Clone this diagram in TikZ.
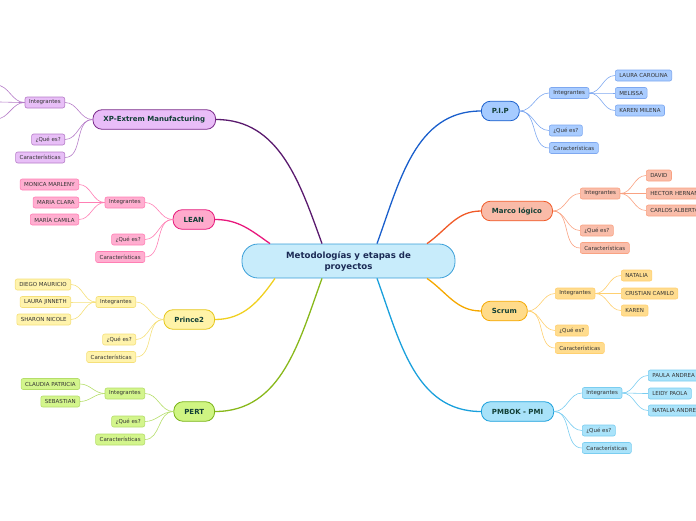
\documentclass[tikz,border=0pt]{standalone}
\usepackage{fontspec}
\setmainfont{DejaVu Sans}
\usetikzlibrary{calc}
\definecolor{ctrfill}{HTML}{C8ECFB}
\definecolor{ctrdraw}{HTML}{3A9FD8}
\definecolor{ctrtext}{HTML}{1B2A55}
\definecolor{toptext}{HTML}{123F36}
\definecolor{subtext}{HTML}{333333}
% XP
\definecolor{xpl}{HTML}{5A1A6E}\definecolor{xpf}{HTML}{E9BDF8}\definecolor{xpd}{HTML}{7A2A8A}\definecolor{xps}{HTML}{B67CC8}\definecolor{xpsf}{HTML}{E8BFF7}
% LEAN
\definecolor{lel}{HTML}{E8197D}\definecolor{lef}{HTML}{FFAACC}\definecolor{led}{HTML}{E6197A}\definecolor{les}{HTML}{FF7FB4}\definecolor{lesf}{HTML}{FFAED0}
% Prince2
\definecolor{prl}{HTML}{F0D020}\definecolor{prf}{HTML}{FFF3A8}\definecolor{prd}{HTML}{E6C619}\definecolor{prs}{HTML}{F5E07A}\definecolor{prsf}{HTML}{FFF3AC}
% PERT
\definecolor{pel}{HTML}{88B81A}\definecolor{pef}{HTML}{CFF582}\definecolor{ped}{HTML}{7AB319}\definecolor{pes}{HTML}{B5DE6A}\definecolor{pesf}{HTML}{D3F58C}
% PIP
\definecolor{pil}{HTML}{1A5FCC}\definecolor{pif}{HTML}{A6CBFF}\definecolor{pid}{HTML}{1A5FCC}\definecolor{pis}{HTML}{7EA8F0}\definecolor{pisf}{HTML}{A9CCFF}
% Marco
\definecolor{mal}{HTML}{F05A28}\definecolor{maf}{HTML}{F9BBA8}\definecolor{mad}{HTML}{F05A28}\definecolor{mas}{HTML}{F9A282}\definecolor{masf}{HTML}{F9BDAA}
% Scrum
\definecolor{scl}{HTML}{F5A800}\definecolor{scf}{HTML}{FFDB8A}\definecolor{scd}{HTML}{F5A800}\definecolor{scs}{HTML}{FFD070}\definecolor{scsf}{HTML}{FFDC8E}
% PMBOK
\definecolor{pml}{HTML}{1AA0DC}\definecolor{pmf}{HTML}{A8E2F9}\definecolor{pmd}{HTML}{1AA0DC}\definecolor{pms}{HTML}{7ACDF0}\definecolor{pmsf}{HTML}{AAE3FA}
\begin{document}
\begin{tikzpicture}[x=1pt,y=-1pt,
  sub/.style={draw, rounded corners=2pt, line width=0.6pt,
    font=\fontsize{5.5}{6}\selectfont, text=subtext,
    inner xsep=4pt, inner ysep=0pt, minimum height=11pt},
  topic/.style={draw, rounded corners=9pt, line width=0.8pt,
    font=\fontsize{7}{8}\selectfont\bfseries, text=toptext,
    inner xsep=10.5pt, inner ysep=0pt, minimum height=19.5pt},
  mainline/.style={line width=1.3pt},
  subline/.style={line width=0.6pt},
  ctr/.style={draw=ctrdraw, fill=ctrfill, line width=0.8pt, rounded corners=16pt,
    minimum width=213pt, minimum height=34pt, align=center,
    font=\fontsize{8.6}{11}\selectfont\bfseries, text=ctrtext}
]
\clip (0,0) rectangle (696,520);

% ===== centre
\node[ctr] (c) at (348.5,261) {Metodologías y etapas de\\proyectos};

% ===== main topics
\node[topic, fill=xpf, draw=xpd, anchor=east] (xp) at (216,119.5) {XP-Extrem Manufacturing};
\node[topic, fill=lef, draw=led, anchor=east] (lean) at (215,219.5) {LEAN};
\node[topic, fill=prf, draw=prd, anchor=east] (pr) at (215,319.5) {Prince2};
\node[topic, fill=pef, draw=ped, anchor=east] (pert) at (215,411.5) {PERT};
\node[topic, fill=pif, draw=pid, anchor=west] (pip) at (481,111) {P.I.P};
\node[topic, fill=maf, draw=mad, anchor=west] (ma) at (481,211) {Marco lógico};
\node[topic, fill=scf, draw=scd, anchor=west] (sc) at (481,311) {Scrum};
\node[topic, fill=pmf, draw=pmd, anchor=west] (pm) at (481,411.5) {PMBOK - PMI};

\draw[mainline, xpl] ($(c.north)+(-26.5,0)$) to[out=110,in=0] (xp.east);
\draw[mainline, lel] ($(c.north)+(-78.5,0)$) to[out=145,in=0] (lean.east);
\draw[mainline, prl] ($(c.south)+(-73.5,0)$) to[out=-125,in=0] (pr.east);
\draw[mainline, pel] ($(c.south)+(-26.5,0)$) to[out=-110,in=0] (pert.east);
\draw[mainline, pil] ($(c.north)+(28.5,0)$) to[out=70,in=180] (pip.west);
\draw[mainline, mal] ($(c.north)+(78.5,0)$) to[out=35,in=180] (ma.west);
\draw[mainline, scl] ($(c.south)+(78.5,0)$) to[out=-35,in=180] (sc.west);
\draw[mainline, pml] ($(c.south)+(28.5,0)$) to[out=-70,in=180] (pm.west);

% ===== XP subtree
\begin{scope}[every node/.append style={fill=xpsf, draw=xps}]
\node[sub, anchor=east] (xpi) at (65,102.5) {Integrantes};
\node[sub, anchor=east] (xpq) at (65,139.5) {¿Qué es?};
\node[sub, anchor=east] (xpc) at (65,157.5) {Características};
\end{scope}
\coordinate (xpa) at (-4,85);
\coordinate (xpb) at (-4,102);
\coordinate (xpcc) at (-4,119);
\foreach \n in {xpi,xpq,xpc} \draw[subline, xps] (xp.west) to[out=180,in=0] (\n.east);
\foreach \n in {xpa,xpb,xpcc} \draw[subline, xps] (xpi.west) to[out=180,in=0] (\n);

% ===== LEAN subtree
\begin{scope}[every node/.append style={fill=lesf, draw=les}]
\node[sub, anchor=east] (lei) at (145,202.5) {Integrantes};
\node[sub, anchor=east] (leq) at (145,239.5) {¿Qué es?};
\node[sub, anchor=east] (lec) at (145,257) {Características};
\node[sub, anchor=east] (le1) at (79,184.5) {MONICA MARLENY};
\node[sub, anchor=east] (le2) at (79,202.5) {MARIA CLARA};
\node[sub, anchor=east] (le3) at (79,219.5) {MARÍA CAMILA};
\end{scope}
\foreach \n in {lei,leq,lec} \draw[subline, les] (lean.west) to[out=180,in=0] (\n.east);
\foreach \n in {le1,le2,le3} \draw[subline, les] (lei.west) to[out=180,in=0] (\n.east);

% ===== Prince2 subtree
\begin{scope}[every node/.append style={fill=prsf, draw=prs}]
\node[sub, anchor=east] (pri) at (136,302) {Integrantes};
\node[sub, anchor=east] (prq) at (136,339.5) {¿Qué es?};
\node[sub, anchor=east] (prc) at (136,357) {Características};
\node[sub, anchor=east] (pr1) at (71,284.5) {DIEGO MAURICIO};
\node[sub, anchor=east] (pr2) at (71,302) {LAURA JINNETH};
\node[sub, anchor=east] (pr3) at (71,319.5) {SHARON NICOLE};
\end{scope}
\foreach \n in {pri,prq,prc} \draw[subline, prs] (pr.west) to[out=180,in=0] (\n.east);
\foreach \n in {pr1,pr2,pr3} \draw[subline, prs] (pri.west) to[out=180,in=0] (\n.east);

% ===== PERT subtree
\begin{scope}[every node/.append style={fill=pesf, draw=pes}]
\node[sub, anchor=east] (pei) at (145,393.5) {Integrantes};
\node[sub, anchor=east] (peq) at (145,421.5) {¿Qué es?};
\node[sub, anchor=east] (pec) at (145,439.5) {Características};
\node[sub, anchor=east] (pe1) at (80,384) {CLAUDIA PATRICIA};
\node[sub, anchor=east] (pe2) at (80,401.5) {SEBASTIAN};
\end{scope}
\foreach \n in {pei,peq,pec} \draw[subline, pes] (pert.west) to[out=180,in=0] (\n.east);
\foreach \n in {pe1,pe2} \draw[subline, pes] (pei.west) to[out=180,in=0] (\n.east);

% ===== P.I.P subtree
\begin{scope}[every node/.append style={fill=pisf, draw=pis}]
\node[sub, anchor=west] (pii) at (549,93) {Integrantes};
\node[sub, anchor=west] (piq) at (549,130.5) {¿Qué es?};
\node[sub, anchor=west] (pic) at (549,148) {Características};
\node[sub, anchor=west] (pi1) at (615,75.5) {LAURA CAROLINA};
\node[sub, anchor=west] (pi2) at (615,93) {MELISSA};
\node[sub, anchor=west] (pi3) at (615,110.5) {KAREN MILENA};
\end{scope}
\foreach \n in {pii,piq,pic} \draw[subline, pis] (pip.east) to[out=0,in=180] (\n.west);
\foreach \n in {pi1,pi2,pi3} \draw[subline, pis] (pii.east) to[out=0,in=180] (\n.west);

% ===== Marco logico subtree
\begin{scope}[every node/.append style={fill=masf, draw=mas}]
\node[sub, anchor=west] (mai) at (580,193.5) {Integrantes};
\node[sub, anchor=west] (maq) at (580,230.5) {¿Qué es?};
\node[sub, anchor=west] (mac) at (580,248) {Características};
\node[sub, anchor=west] (ma1) at (646,175.5) {DAVID};
\node[sub, anchor=west] (ma2) at (646,193.5) {HECTOR HERNANDO};
\node[sub, anchor=west] (ma3) at (646,210.5) {CARLOS ALBERTO};
\end{scope}
\foreach \n in {mai,maq,mac} \draw[subline, mas] (ma.east) to[out=0,in=180] (\n.west);
\foreach \n in {ma1,ma2,ma3} \draw[subline, mas] (mai.east) to[out=0,in=180] (\n.west);

% ===== Scrum subtree
\begin{scope}[every node/.append style={fill=scsf, draw=scs}]
\node[sub, anchor=west] (sci) at (555,293.5) {Integrantes};
\node[sub, anchor=west] (scq) at (555,330.5) {¿Qué es?};
\node[sub, anchor=west] (scc) at (555,348) {Características};
\node[sub, anchor=west] (sc1) at (621,275.5) {NATALIA};
\node[sub, anchor=west] (sc2) at (621,293.5) {CRISTIAN CAMILO};
\node[sub, anchor=west] (sc3) at (621,310.5) {KAREN};
\end{scope}
\foreach \n in {sci,scq,scc} \draw[subline, scs] (sc.east) to[out=0,in=180] (\n.west);
\foreach \n in {sc1,sc2,sc3} \draw[subline, scs] (sci.east) to[out=0,in=180] (\n.west);

% ===== PMBOK subtree
\begin{scope}[every node/.append style={fill=pmsf, draw=pms}]
\node[sub, anchor=west] (pmi) at (582,393) {Integrantes};
\node[sub, anchor=west] (pmq) at (582,430.5) {¿Qué es?};
\node[sub, anchor=west] (pmc) at (582,448) {Características};
\node[sub, anchor=west] (pm1) at (648,375.5) {PAULA ANDREA};
\node[sub, anchor=west] (pm2) at (648,393.5) {LEIDY PAOLA};
\node[sub, anchor=west] (pm3) at (648,410.5) {NATALIA ANDREA};
\end{scope}
\foreach \n in {pmi,pmq,pmc} \draw[subline, pms] (pm.east) to[out=0,in=180] (\n.west);
\foreach \n in {pm1,pm2,pm3} \draw[subline, pms] (pmi.east) to[out=0,in=180] (\n.west);
\end{tikzpicture}
\end{document}
